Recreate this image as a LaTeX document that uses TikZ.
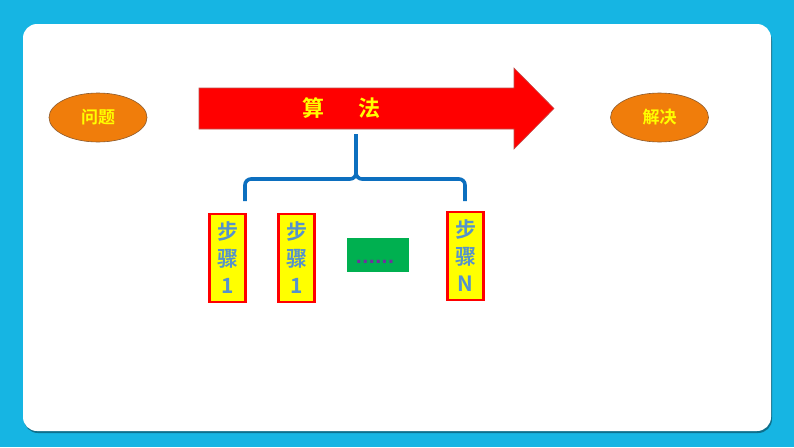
\documentclass[tikz,border=0pt]{standalone}
\usepackage{fontspec}
\usetikzlibrary{shapes.geometric}
\newfontfamily\cjk{Noto Sans CJK SC}[UprightFont={* Bold}]
\newfontfamily\dotfont{DejaVu Sans}
\definecolor{bgblue}{HTML}{16B5E3}
\definecolor{shadowblue}{HTML}{0E6F8C}
\definecolor{arrowred}{HTML}{FF0000}
\definecolor{arrowedge}{HTML}{C0504D}
\definecolor{ellorange}{HTML}{F07D0B}
\definecolor{elledge}{HTML}{8A5A2E}
\definecolor{txtyellow}{HTML}{FFFF00}
\definecolor{stepblue}{HTML}{5592CC}
\definecolor{bracecol}{HTML}{0C6FBF}
\definecolor{dotgreen}{HTML}{00B050}
\definecolor{dotpurple}{HTML}{7030A0}
\tikzset{
  ovalnode/.style={ellipse, fill=ellorange, draw=elledge, line width=0.6pt,
    minimum width=98pt, minimum height=49pt, inner sep=0pt,
    text=txtyellow, font=\cjk\fontsize{17}{19}\selectfont},
  stepbox/.style={rectangle, fill=txtyellow, draw=arrowred, line width=2.6pt,
    minimum width=36pt, minimum height=88pt, inner sep=0pt, align=center,
    text=stepblue, font=\cjk\fontsize{21}{27}\selectfont},
  bracestyle/.style={draw=bracecol, line width=3.6pt, rounded corners=6pt},
}
\begin{document}
\begin{tikzpicture}[x=1pt,y=-1pt]
\useasboundingbox (0,0) rectangle (794,447);
\fill[bgblue] (0,0) rectangle (794,447);
\fill[shadowblue, rounded corners=14pt] (24,27) rectangle (772,433);
\fill[white, rounded corners=14pt] (23,24) rectangle (771,431);
% arrow
\fill[arrowred, draw=arrowedge, line width=0.6pt]
  (199,88) -- (514,88) -- (514,68) -- (554,108.5) -- (514,149) -- (514,129) -- (199,129) -- cycle;
\node[text=txtyellow, font=\cjk\fontsize{22}{24}\selectfont, inner sep=0pt] (alg) at (341.5,108.5) {算\hspace{35pt}法};
% ovals
\node[ovalnode] (prob) at (98,117.5) {问题};
\node[ovalnode] (sol) at (659.5,117.5) {解决};
% brace
\coordinate (stemtop) at (356,134);
\coordinate (brjoin) at (356,179);
\coordinate (brL) at (245,201);
\coordinate (brR) at (465,201);
\draw[bracestyle] (brL) |- (brjoin) -- (stemtop);
\draw[bracestyle] (brR) |- (brjoin) -- (stemtop);
% steps
\node[stepbox] (s1) at (227.5,258) {步\\骤\\1};
\node[stepbox] (s2) at (296.5,258) {步\\骤\\1};
\node[stepbox] (sn) at (465.5,256) {步\\骤\\N};
\node[rectangle, fill=dotgreen, minimum width=62pt, minimum height=34pt, inner sep=0pt] (dots) at (378,255) {};
\node[anchor=base, inner sep=0pt, text=dotpurple, font=\dotfont\bfseries\fontsize{17}{19}\selectfont] (dotstxt) at (375,263.5) {......};
\end{tikzpicture}
\end{document}
